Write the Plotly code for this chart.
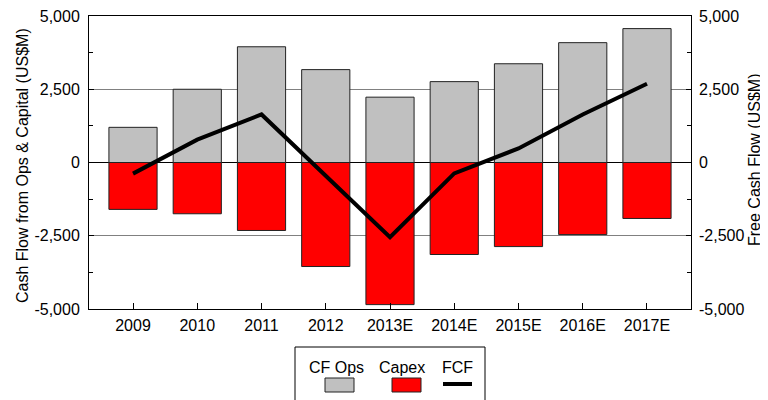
import plotly.graph_objects as go

years = ["2009", "2010", "2011", "2012", "2013E", "2014E", "2015E", "2016E", "2017E"]
cf_ops = [1200, 2500, 3950, 3170, 2230, 2760, 3370, 4090, 4570]
capex = [-1600, -1750, -2320, -3550, -4850, -3140, -2870, -2460, -1910]
fcf = [-380, 780, 1640, -450, -2550, -370, 480, 1640, 2690]
ytick_vals = [-5000, -2500, 0, 2500, 5000]
ytick_text = ["-5,000", "-2,500", "0", "2,500", "5,000"]

FONT = "Liberation Sans, Arial, sans-serif"
FS = 16
fig = go.Figure()
fig.add_trace(go.Bar(x=years, y=cf_ops, name="CF Ops", marker=dict(color="#C0C0C0", line=dict(color="#222222", width=1)), width=0.75))
fig.add_trace(go.Bar(x=years, y=capex, name="Capex", marker=dict(color="#FF0000", line=dict(color="#222222", width=1)), width=0.75))
fig.add_trace(go.Scatter(x=years, y=fcf, name="FCF", mode="lines", line=dict(color="black", width=4), yaxis="y2"))

# page has an 8px body margin: figure is 760x392 so plot area lands at x 89..691, y 16..309
fig.update_layout(
    width=760, height=392,
    margin=dict(l=81, r=77, t=8, b=91, autoexpand=False),
    paper_bgcolor="white", plot_bgcolor="white",
    barmode="relative", showlegend=False,
    font=dict(family=FONT, size=FS, color="black"),
    xaxis=dict(type="category", range=[-0.685, 8.685], ticks="inside", ticklen=6, tickcolor="black",
               showline=True, linecolor="black", linewidth=1, mirror=True, showgrid=False,
               automargin=False, tickfont=dict(size=FS), ticklabelstandoff=2),
    yaxis=dict(range=[-5000, 5000], tickvals=ytick_vals, ticktext=ytick_text, ticks="inside", ticklen=5,
               tickcolor="black", showline=True, linecolor="black", linewidth=1, mirror=True, automargin=False,
               showgrid=True, gridcolor="#808080", gridwidth=1, zeroline=True, zerolinecolor="black", zerolinewidth=1,
               tickfont=dict(size=FS), ticklabeloverflow="allow", ticklabelstandoff=5,
               minor=dict(dtick=1250, tick0=0, ticks="inside", ticklen=4, tickcolor="black", showgrid=False)),
    yaxis2=dict(range=[-5000, 5000], overlaying="y", side="right", tickvals=ytick_vals, ticktext=ytick_text,
                ticks="inside", ticklen=5, tickcolor="black", showgrid=False, zeroline=False, showline=False,
                automargin=False, tickfont=dict(size=FS), ticklabeloverflow="allow", ticklabelstandoff=7,
                minor=dict(dtick=1250, tick0=0, ticks="inside", ticklen=4, tickcolor="black", showgrid=False)),
)

# helpers: page pixel -> paper coords
def px_x(p):
    return (p - 89) / 602
def px_y(p):
    return (309 - p) / 293

# axis titles
fig.add_annotation(text="Cash Flow from Ops & Capital (US$M)", xref="paper", yref="paper", x=px_x(22), y=px_y(166),
                   textangle=-90, showarrow=False, xanchor="center", yanchor="middle", font=dict(size=FS, family=FONT))
fig.add_annotation(text="Free Cash Flow (US$M)", xref="paper", yref="paper", x=px_x(754), y=px_y(160),
                   textangle=-90, showarrow=False, xanchor="center", yanchor="middle", font=dict(size=FS, family=FONT))

# custom legend
fig.add_shape(type="rect", xref="paper", yref="paper", x0=px_x(295), x1=px_x(485), y0=px_y(410), y1=px_y(347),
              line=dict(color="black", width=1), fillcolor="white")
fig.add_shape(type="rect", xref="paper", yref="paper", x0=px_x(325), x1=px_x(354), y0=px_y(392), y1=px_y(378),
              line=dict(color="#222222", width=1), fillcolor="#C0C0C0")
fig.add_shape(type="rect", xref="paper", yref="paper", x0=px_x(392), x1=px_x(421), y0=px_y(392), y1=px_y(378),
              line=dict(color="#222222", width=1), fillcolor="#FF0000")
fig.add_shape(type="line", xref="paper", yref="paper", x0=px_x(443), x1=px_x(472), y0=px_y(384), y1=px_y(384),
              line=dict(color="black", width=4))
for label, cx in [("CF Ops", 336), ("Capex", 402), ("FCF", 457)]:
    fig.add_annotation(text=label, xref="paper", yref="paper", x=px_x(cx), y=px_y(367), showarrow=False,
                       xanchor="center", yanchor="middle", font=dict(size=FS, family=FONT))

fig.write_html("out.html")
